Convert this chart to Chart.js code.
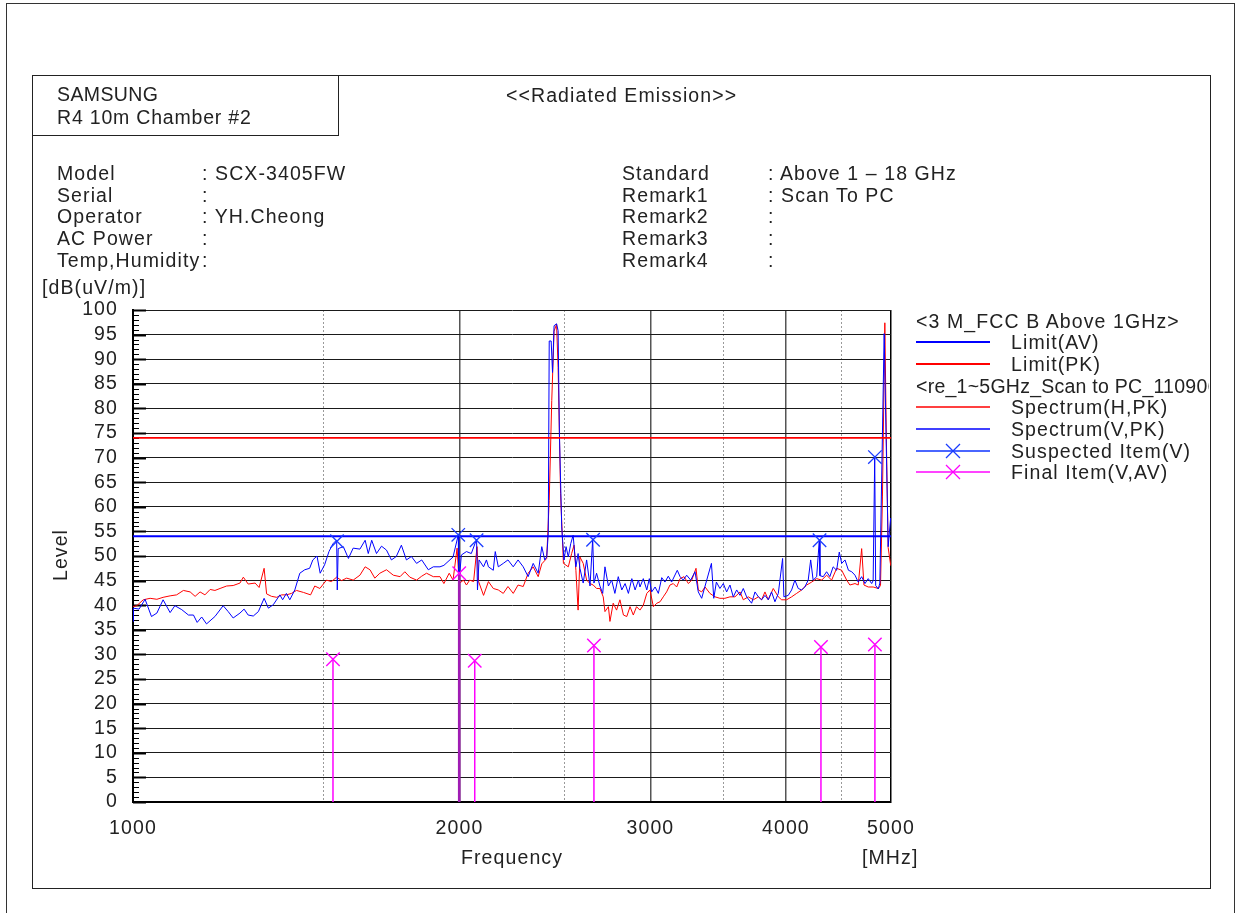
<!DOCTYPE html>
<html><head><meta charset="utf-8">
<script src="https://cdn.jsdelivr.net/npm/chart.js@4.4.0/dist/chart.umd.min.js"></script>
<style>
html,body{margin:0;padding:0;background:#fff;}
body{width:1241px;height:913px;position:relative;overflow:hidden;font-family:"Liberation Sans",Arial,sans-serif;font-size:19.5px;color:#222;letter-spacing:1.1px;}
.t{position:absolute;white-space:nowrap;line-height:22px;}
#page{position:absolute;left:6px;top:3px;width:1227px;height:940px;border:1px solid #333;}
#frame{position:absolute;left:32px;top:75px;width:1177px;height:812px;border:1px solid #222;}
#sbox{position:absolute;left:32px;top:75px;width:305px;height:59px;border:1px solid #222;}
#chart{position:absolute;left:0;top:0;}
#legend{position:absolute;left:905px;top:300px;width:304px;height:190px;overflow:hidden;}
#legend svg{position:absolute;left:11px;}
</style></head>
<body>
<div id="page"></div>
<div id="frame"></div>
<div id="sbox"></div>
<canvas id="chart" width="1241" height="913"></canvas>

<div class="t" style="left:57px;top:83px;letter-spacing:0.4px">SAMSUNG</div>
<div class="t" style="left:57px;top:106px;letter-spacing:0.8px">R4 10m Chamber #2</div>
<div class="t" style="left:506px;top:84px">&lt;&lt;Radiated Emission&gt;&gt;</div>

<div class="t" style="left:57px;top:162px">Model</div>
<div class="t" style="left:57px;top:184px">Serial</div>
<div class="t" style="left:57px;top:205px">Operator</div>
<div class="t" style="left:57px;top:227px">AC Power</div>
<div class="t" style="left:57px;top:249px">Temp,Humidity</div>
<div class="t" style="left:202px;top:162px">: SCX-3405FW</div>
<div class="t" style="left:202px;top:184px">:</div>
<div class="t" style="left:202px;top:205px">: YH.Cheong</div>
<div class="t" style="left:202px;top:227px">:</div>
<div class="t" style="left:202px;top:249px">:</div>

<div class="t" style="left:622px;top:162px">Standard</div>
<div class="t" style="left:622px;top:184px">Remark1</div>
<div class="t" style="left:622px;top:205px">Remark2</div>
<div class="t" style="left:622px;top:227px">Remark3</div>
<div class="t" style="left:622px;top:249px">Remark4</div>
<div class="t" style="left:768px;top:162px">: Above 1 &#8211; 18 GHz</div>
<div class="t" style="left:768px;top:184px">: Scan To PC</div>
<div class="t" style="left:768px;top:205px">:</div>
<div class="t" style="left:768px;top:227px">:</div>
<div class="t" style="left:768px;top:249px">:</div>

<div class="t" style="left:42px;top:276px">[dB(uV/m)]</div>
<div class="t" style="left:30px;top:544px;width:60px;text-align:center;transform:rotate(-90deg)">Level</div>
<div class="t" style="left:461px;top:846px">Frequency</div>
<div class="t" style="left:862px;top:846px">[MHz]</div>

<div id="legend">
  <div class="t" style="left:11px;top:10px">&lt;3 M_FCC B Above 1GHz&gt;</div>
  <svg style="top:37px" width="80" height="10"><line x1="0" y1="5" x2="74" y2="5" stroke="#0000ff" stroke-width="2"/></svg>
  <div class="t" style="left:106px;top:31px">Limit(AV)</div>
  <svg style="top:59px" width="80" height="10"><line x1="0" y1="5" x2="74" y2="5" stroke="#ff0000" stroke-width="2"/></svg>
  <div class="t" style="left:106px;top:53px">Limit(PK)</div>
  <div class="t" style="left:11px;top:75px;letter-spacing:0.25px">&lt;re_1~5GHz_Scan to PC_110906</div>
  <svg style="top:102px" width="80" height="10"><line x1="0" y1="5" x2="74" y2="5" stroke="#ff0000" stroke-width="1.5"/></svg>
  <div class="t" style="left:106px;top:96px">Spectrum(H,PK)</div>
  <svg style="top:124px" width="80" height="10"><line x1="0" y1="5" x2="74" y2="5" stroke="#0000ff" stroke-width="1.5"/></svg>
  <div class="t" style="left:106px;top:118px">Spectrum(V,PK)</div>
  <svg style="top:141px" width="80" height="20"><line x1="0" y1="10" x2="74" y2="10" stroke="#4a66ff" stroke-width="2"/><path d="M30 3 L44 17 M44 3 L30 17" stroke="#1a3cff" stroke-width="1.3"/></svg>
  <div class="t" style="left:106px;top:140px">Suspected Item(V)</div>
  <svg style="top:162px" width="80" height="20"><line x1="0" y1="10" x2="74" y2="10" stroke="#ff44ff" stroke-width="2"/><path d="M30 3 L44 17 M44 3 L30 17" stroke="#ff00ff" stroke-width="1.3"/></svg>
  <div class="t" style="left:106px;top:161px">Final Item(V,AV)</div>
</div>

<script>
// ---------- data ----------
const xGridValues = [1000, 1500, 2000, 2500, 3000, 3500, 4000, 4500, 5000];
const xLabelValues = [1000, 2000, 3000, 4000, 5000];
const yTickStep = 5;

const limitFreq = [1000, 5000];
const limitAV = [54, 54];
const limitPK = [74, 74];

const specHFreq = [
 1000,1008,1015,1022,1037,1052,1066,1082,1097,1113,
 1129,1141,1153,1165,1178,1190,1203,1220,1237,1255,
 1264,1277,1296,1307,1321,1328,1342,1357,1371,1385,
 1400,1415,1436,1458,1471,1487,1498,1508,1524,1541,
 1557,1574,1596,1619,1637,1654,1671,1689,1713,1738,
 1763,1781,1800,1826,1846,1865,1892,1919,1935,1957,
 1973,1990,1999,2017,2030,2044,2061,2076,2083,2105,
 2127,2149,2172,2195,2217,2242,2265,2290,2314,2339,
 2364,2382,2407,2420,2433,2445,2458,2466,2479,2494,
 2520,2538,2551,2561,2573,2583,2601,2620,2639,2657,
 2676,2695,2714,2724,2744,2753,2772,2792,2812,2833,
 2853,2873,2893,2913,2934,2955,2977,2997,3019,3041,
 3062,3083,3105,3127,3149,3172,3195,3222,3252,3275,
 3305,3321,3345,3369,3404,3441,3477,3514,3552,3590,
 3629,3654,3693,3733,3773,3799,3826,3853,3894,3936,
 3964,4006,4049,4092,4136,4180,4225,4270,4316,4361,
 4408,4455,4503,4551,4582,4632,4664,4698,4721,4764,
 4814,4867,4890,4910,4935,4950,4970,4996,5000];
const specHLevel = [
 39.7,39.9,40.5,41.1,41.4,41.2,41.6,41.9,42.1,43.0,
 42.7,41.8,42.7,42.1,43.2,43.0,43.4,43.9,44.0,44.5,
 45.7,44.3,44.5,43.6,47.5,42.3,41.8,41.6,42.1,42.1,
 42.4,43.0,42.6,42.1,43.9,43.4,44.3,45.1,44.8,45.7,
 45.0,45.5,45.1,46.1,47.8,47.2,45.5,46.5,47.2,46.1,
 45.8,46.8,45.7,45.1,45.9,46.5,45.8,45.8,44.4,46.5,
 45.1,51.6,44.4,45.1,44.1,45.1,44.8,51.9,44.8,42.0,
 44.8,43.4,43.1,42.4,43.8,42.4,44.1,43.8,46.5,47.8,
 45.8,48.4,49.5,61.3,81.6,95.7,97.1,88.3,62.7,48.5,
 47.8,50.5,52.2,47.1,39.0,49.8,48.5,45.1,44.4,44.1,
 43.4,43.4,41.7,38.7,39.7,36.7,40.4,39.0,41.1,38.0,
 37.7,39.7,38.0,39.7,39.0,40.0,42.4,43.1,39.7,40.4,
 40.7,41.7,42.7,44.1,44.4,43.7,45.4,45.8,44.4,45.1,
 47.5,43.1,42.7,43.7,42.4,41.7,41.4,41.4,41.7,41.7,
 42.7,41.1,41.7,41.1,41.7,41.1,42.7,41.1,43.4,41.7,
 41.1,41.1,41.7,42.4,43.1,44.1,44.7,45.4,45.1,46.1,
 45.1,47.5,47.1,45.1,44.1,44.4,44.1,51.5,44.1,43.7,
 43.7,43.4,44.0,62.0,97.4,75.0,51.7,48.2,48.0];

const specVFreq = [
 1000,1001,1013,1026,1040,1052,1066,1082,1093,1109,
 1125,1137,1146,1157,1169,1190,1211,1224,1237,1255,
 1266,1277,1291,1305,1321,1333,1347,1366,1374,1385,
 1395,1410,1425,1440,1455,1465,1478,1488,1502,1516,
 1530,1541,1543,1546,1563,1580,1596,1619,1637,1648,
 1660,1677,1695,1713,1731,1749,1768,1787,1806,1826,
 1846,1872,1892,1919,1935,1973,1995,1997,2008,2030,
 2051,2074,2078,2085,2105,2118,2127,2149,2158,2172,
 2195,2217,2242,2265,2290,2314,2339,2364,2382,2397,
 2407,2415,2420,2430,2437,2445,2458,2466,2473,2485,
 2497,2508,2520,2533,2546,2561,2573,2583,2601,2620,
 2639,2654,2661,2676,2695,2711,2724,2744,2763,2782,
 2802,2823,2843,2863,2884,2904,2925,2934,2955,2977,
 2993,3008,3030,3051,3073,3094,3116,3138,3176,3195,
 3217,3240,3268,3298,3321,3345,3381,3415,3432,3451,
 3477,3502,3527,3552,3577,3603,3629,3654,3680,3719,
 3746,3773,3799,3826,3853,3880,3908,3936,3972,3983,
 4020,4049,4077,4106,4136,4164,4194,4216,4238,4270,
 4294,4300,4330,4361,4391,4422,4455,4480,4503,4535,
 4568,4600,4632,4664,4698,4731,4764,4799,4814,4830,
 4840,4867,4883,4928,4970,4996,5000];
const specVLevel = [
 36.7,39.4,39.2,41.2,37.7,38.4,41.1,38.5,39.9,39.1,
 38.0,38.0,36.5,37.6,36.2,37.7,39.9,38.7,37.4,38.4,
 39.2,38.0,37.8,38.7,41.4,39.4,40.1,42.1,41.1,42.4,
 41.1,43.1,46.5,47.2,47.5,49.2,50.0,46.5,48.2,50.9,
 52.6,53.2,43.1,51.5,51.9,49.5,51.6,51.4,53.2,50.5,
 53.2,50.5,52.0,51.2,49.2,49.9,52.2,49.2,49.9,48.5,
 49.2,47.2,47.8,47.8,48.1,49.8,54.3,43.8,50.2,50.9,
 50.5,53.4,43.1,49.2,47.8,49.2,47.8,47.1,50.9,47.8,
 48.5,49.2,47.8,49.2,47.8,45.8,48.5,46.5,51.9,49.2,
 49.8,54.5,93.7,93.7,87.3,96.8,97.2,95.8,74.8,55.9,
 49.2,51.9,49.8,52.5,54.2,47.8,50.5,47.5,44.5,49.2,
 43.9,53.5,44.5,46.5,43.9,42.4,47.8,43.9,45.1,42.4,
 45.8,43.1,44.4,42.4,45.4,43.1,45.1,43.7,45.4,43.1,
 45.4,42.7,43.7,42.4,45.6,44.7,45.9,44.7,47.1,45.8,
 45.1,46.1,45.1,46.8,42.7,41.4,45.1,48.5,41.4,44.7,
 43.4,44.4,42.7,44.1,41.7,43.1,42.0,43.4,41.7,40.4,
 42.7,41.7,41.1,42.0,41.1,42.7,40.7,42.4,49.5,41.7,
 42.0,43.1,45.1,43.4,43.1,43.7,45.1,49.2,45.1,45.8,
 53.2,46.0,45.8,46.8,45.8,47.8,47.1,50.8,48.5,49.2,
 47.1,46.8,46.1,44.7,45.8,44.4,45.4,44.4,45.0,70.1,
 44.0,43.3,44.5,95.2,51.9,57.7,57.0];

const suspectFreq = [1542, 1995, 2074, 2656, 4296, 4832];
const suspectLevel = [53.0, 54.3, 53.2, 53.3, 53.2, 70.1];

const finalFreq = [1529, 1999, 2066, 2661, 4309, 4832];
const finalLevel = [29.0, 46.5, 28.7, 31.8, 31.5, 32.0];

// ---------- build ----------
const pts = (xs, ys) => xs.map((x, i) => ({x: x, y: ys[i]}));
const finalPts = [];
finalFreq.forEach((f, i) => {
  finalPts.push({x: f, y: 0}, {x: f, y: finalLevel[i]}, {x: f, y: null});
});

const FONT = {family: '"Liberation Sans", Arial, sans-serif', size: 19.5};

const yMinorTicks = {
  id: 'yMinorTicks',
  beforeDatasetsDraw(chart) {
    const ys = chart.scales.y, c = chart.ctx, left = chart.chartArea.left;
    c.save();
    c.strokeStyle = '#000';
    for (let v = 0; v <= 100; v++) {
      const major = v % 5 === 0;
      const py = Math.round(ys.getPixelForValue(v)) + 0.5;
      c.lineWidth = major ? 2 : 1;
      c.beginPath();
      c.moveTo(left, py);
      c.lineTo(left + (major ? 13 : 6), py);
      c.stroke();
    }
    c.restore();
  }
};

const isMajorX = v => v === 2000 || v === 3000 || v === 4000;
const isMinorX = v => v === 1500 || v === 2500 || v === 3500 || v === 4500;
const onMajorGrid = x => xGridValues.some(g => isMajorX(g) && Math.abs(g - x) < 5);

new Chart(document.getElementById('chart'), {
  type: 'scatter',
  data: {
    datasets: [
      {label: 'Final Item(V,AV)', data: finalPts, showLine: true, spanGaps: false,
       borderColor: '#ff00ff', backgroundColor: '#ff00ff', borderWidth: 1.5,
       segment: {
         borderColor: c => (onMajorGrid(c.p0.parsed.x) ? '#a01cb4' : undefined),
         borderWidth: c => (onMajorGrid(c.p0.parsed.x) ? 2.6 : undefined)
       },
       pointStyle: 'crossRot', pointRadius: c => (c.dataIndex % 3 === 1 ? 9.5 : 0),
       pointBorderWidth: 1.4},
      {label: 'Suspected Item(V)', data: pts(suspectFreq, suspectLevel), showLine: false,
       borderColor: '#1a3cff', backgroundColor: '#1a3cff', pointStyle: 'crossRot',
       pointRadius: 9.5, pointBorderWidth: 1.3},
      {label: 'Limit(AV)', data: pts(limitFreq, limitAV), showLine: true,
       borderColor: '#0000ff', borderWidth: 2, pointRadius: 0},
      {label: 'Limit(PK)', data: pts(limitFreq, limitPK), showLine: true,
       borderColor: '#ff0000', borderWidth: 1.6, pointRadius: 0},
      {label: 'Spectrum(V,PK)', data: pts(specVFreq, specVLevel), showLine: true,
       borderColor: '#0000ff', borderWidth: 1, pointRadius: 0, tension: 0},
      {label: 'Spectrum(H,PK)', data: pts(specHFreq, specHLevel), showLine: true,
       borderColor: '#ff0000', borderWidth: 1, pointRadius: 0, tension: 0}
    ]
  },
  options: {
    responsive: false, animation: false, events: [],
    layout: {padding: {left: 0, top: 310, right: 350, bottom: 0}},
    plugins: {legend: {display: false}, tooltip: {enabled: false}},
    scales: {
      x: {
        type: 'logarithmic', min: 1000, max: 5000,
        afterFit: s => { s.height = 111; },
        afterBuildTicks: s => { s.ticks = xGridValues.map(v => ({value: v})); },
        ticks: {autoSkip: false, maxRotation: 0, minRotation: 0, padding: 15,
                color: '#222', font: FONT,
                callback: v => (xLabelValues.includes(v) ? String(v) : '')},
        grid: {drawTicks: false,
               color: c => (c.tick && isMajorX(c.tick.value) ? '#555' : c.tick && isMinorX(c.tick.value) ? '#9a9a9a' : '#000'),
               lineWidth: c => (c.tick && isMinorX(c.tick.value) ? 1 : 1.5)},
        border: {display: true, color: '#000', width: 2,
                 dash: c => (c.tick && isMinorX(c.tick.value) ? [2, 2] : [])}
      },
      y: {
        min: 0, max: 100,
        afterFit: s => { s.width = 133; },
        ticks: {stepSize: yTickStep, autoSkip: false, padding: 15, color: '#222', font: FONT,
                callback: v => String(v)},
        grid: {drawTicks: false, color: '#1a1a1a', lineWidth: 1},
        border: {display: true, color: '#000', width: 2}
      }
    }
  },
  plugins: [yMinorTicks]
});
</script>
</body></html>
